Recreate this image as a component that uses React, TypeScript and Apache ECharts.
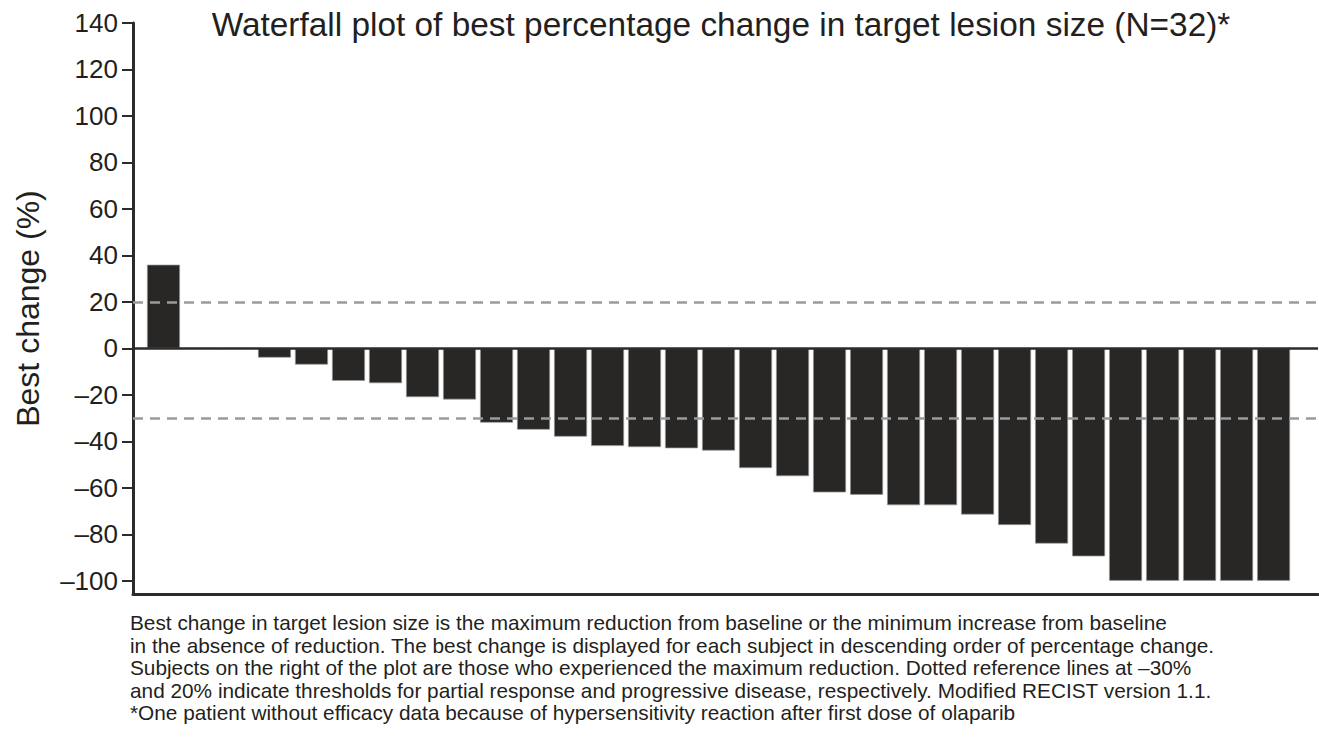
import React, { useEffect, useRef } from "react";
import * as echarts from "echarts";

const bestChange: number[] = [
  36, 0, 0, -4, -7, -14, -15, -21, -22, -32, -35, -38, -42, -42.5, -43, -44,
  -51.5, -55, -62, -63, -67.5, -67.5, -71.5, -76, -84, -89.5, -100, -100, -100,
  -100, -100,
];
const yTicks: number[] = [-100, -80, -60, -40, -20, 0, 20, 40, 60, 80, 100, 120, 140];
const refLines: number[] = [20, -30];
const titleText = "Waterfall plot of best percentage change in target lesion size (N=32)*";
const yAxisName = "Best change (%)";
const footnote: string[] = [
  "Best change in target lesion size is the maximum reduction from baseline or the minimum increase from baseline",
  "in the absence of reduction. The best change is displayed for each subject in descending order of percentage change.",
  "Subjects on the right of the plot are those who experienced the maximum reduction. Dotted reference lines at \u201330%",
  "and 20% indicate thresholds for partial response and progressive disease, respectively. Modified RECIST version 1.1.",
  "*One patient without efficacy data because of hypersensitivity reaction after first dose of olaparib",
];

const FONT = "'Liberation Sans', Arial, Helvetica, sans-serif";
const INK = "#231f20";

export default function App() {
  const ref = useRef<HTMLDivElement>(null);
  useEffect(() => {
    if (!ref.current) return;
    const chart = echarts.init(ref.current, undefined, { renderer: "svg" });
    const barData = bestChange.map((v, i) => [i + 1, v]);
    chart.setOption({
      animation: false,
      backgroundColor: "#ffffff",
      textStyle: { fontFamily: FONT },
      title: {
        text: titleText,
        left: 716,
        top: 3,
        textAlign: "center",
        textStyle: { fontFamily: FONT, fontSize: 33.4, fontWeight: "normal", color: INK },
      },
      grid: {
        left: 133,
        right: 1,
        top: 23,
        bottom: 144,
        containLabel: false,
        outerBoundsMode: "none",
      },
      xAxis: {
        type: "value",
        min: 0.176,
        max: 32.2,
        axisLine: { show: true, onZero: false, lineStyle: { color: "#2b2b2b", width: 3 } },
        axisTick: { show: false },
        axisLabel: { show: false },
        splitLine: { show: false },
      },
      yAxis: {
        type: "value",
        min: -105.7,
        max: 140,
        name: yAxisName,
        nameLocation: "middle",
        nameGap: 89,
        nameTextStyle: { fontFamily: FONT, fontSize: 32, color: INK },
        axisLine: { show: true, lineStyle: { color: "#2b2b2b", width: 3 } },
        axisTick: {
          show: true,
          length: 11,
          customValues: yTicks,
          lineStyle: { color: "#2b2b2b", width: 2 },
        },
        axisLabel: {
          show: true,
          customValues: yTicks,
          margin: 15,
          fontFamily: FONT,
          fontSize: 26,
          color: INK,
          formatter: (v: number) => (v < 0 ? "\u2013" + Math.abs(v) : String(v)),
        },
        splitLine: { show: false },
      },
      graphic: footnote.map((line, i) => ({
        type: "text",
        left: 130,
        top: 612 + i * 22.6,
        style: { text: line, fontFamily: FONT, fontSize: 20.8, fill: INK },
      })),
      series: [
        {
          type: "bar",
          data: barData,
          barWidth: 33,
          itemStyle: { color: "#292725", borderColor: "#9a9a9a", borderWidth: 0.7 },
          markLine: {
            silent: true,
            symbol: "none",
            label: { show: false },
            z: 5,
            data: [
              { yAxis: 0, lineStyle: { color: "#2b2b2b", width: 2.5, type: "solid" } },
              ...refLines.map((v) => ({
                yAxis: v,
                lineStyle: { color: "#9b9b9b", width: 2.5, type: [10, 7] },
              })),
            ],
          },
        },
      ],
    });
    return () => chart.dispose();
  }, []);
  return (
    <div
      ref={ref}
      style={{ position: "fixed", left: 0, top: 0, width: 1319, height: 738 }}
    />
  );
}
